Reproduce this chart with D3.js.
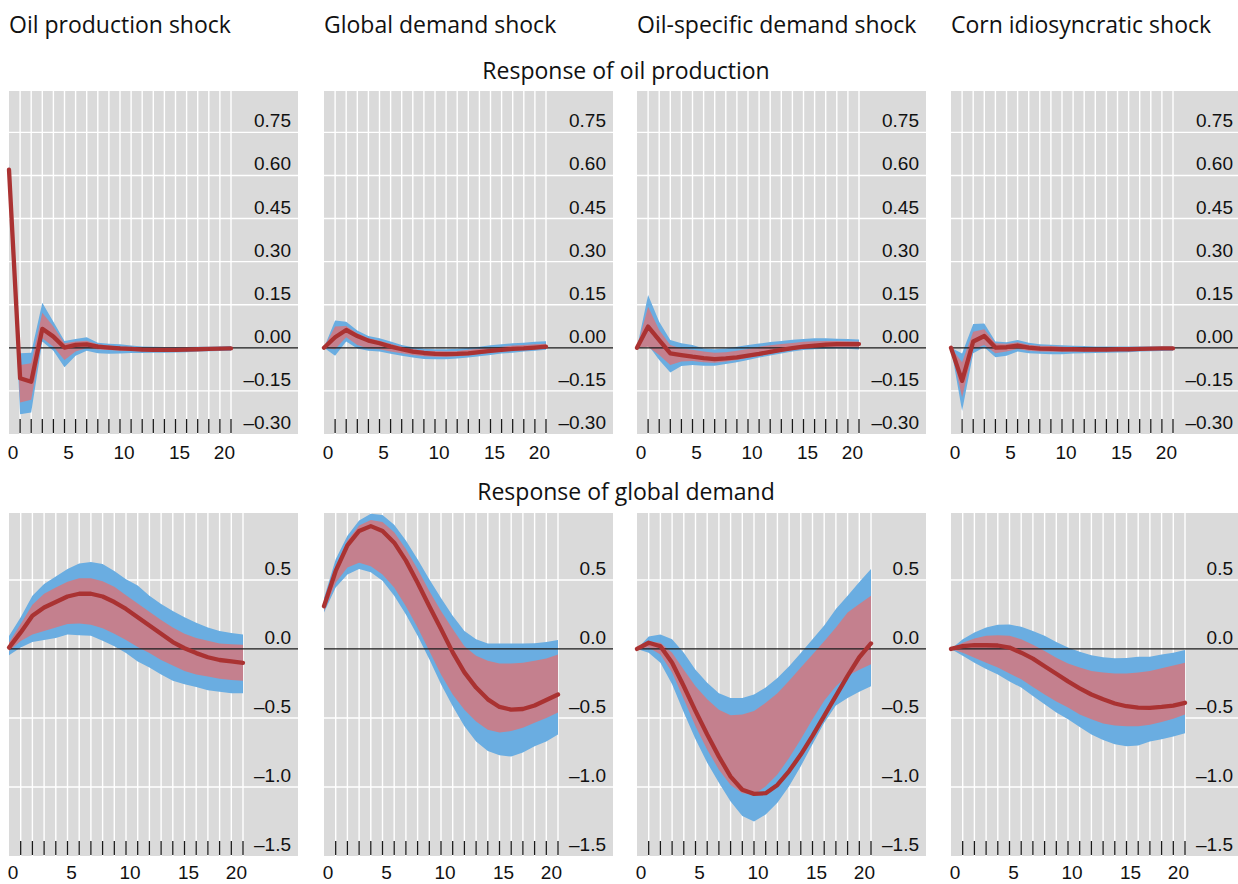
<!DOCTYPE html>
<html><head><meta charset="utf-8">
<script src="https://cdn.jsdelivr.net/npm/d3@7"></script>
<style>body{margin:0;background:#fff} svg{display:block}</style>
</head><body><svg id="c" width="1238" height="884"></svg>
<script>
// ---------- categories / ticks ----------
const shocks = ["Oil production shock", "Global demand shock", "Oil-specific demand shock", "Corn idiosyncratic shock"];
const rowTitles = ["Response of oil production", "Response of global demand"];
const horizons = [0,1,2,3,4,5,6,7,8,9,10,11,12,13,14,15,16,17,18,19,20];
const xTickLabels = [0, 5, 10, 15, 20];
const yTicksTop = [-0.30, -0.15, 0.00, 0.15, 0.30, 0.45, 0.60, 0.75];
const yTicksBottom = [-1.5, -1.0, -0.5, 0.0, 0.5];

// ---------- Response of oil production ----------
// Oil production shock
const op_os_med   = [0.62,-0.106,-0.118,0.066,0.039,0.001,0.010,0.012,0.004,0.001,-0.002,-0.004,-0.006,-0.007,-0.007,-0.007,-0.006,-0.005,-0.004,-0.003,-0.002];
const op_os_hi68  = [0.63,-0.060,-0.054,0.122,0.074,0.016,0.022,0.025,0.012,0.008,0.005,0.002,0.000,-0.001,-0.001,-0.001,0.000,0.000,0.001,0.001,0.002];
const op_os_lo68  = [0.61,-0.190,-0.181,0.033,0.004,-0.042,-0.013,-0.001,-0.006,-0.008,-0.010,-0.011,-0.012,-0.013,-0.013,-0.012,-0.011,-0.010,-0.009,-0.008,-0.007];
const op_os_hi90  = [0.64,-0.019,-0.017,0.157,0.091,0.024,0.031,0.037,0.018,0.014,0.012,0.008,0.005,0.004,0.003,0.003,0.003,0.004,0.004,0.005,0.006];
const op_os_lo90  = [0.60,-0.231,-0.225,0.022,-0.010,-0.068,-0.028,-0.010,-0.019,-0.021,-0.020,-0.018,-0.018,-0.017,-0.017,-0.016,-0.015,-0.013,-0.012,-0.011,-0.010];
// Global demand shock
const op_gd_med   = [0.000,0.037,0.062,0.041,0.025,0.016,0.004,-0.005,-0.013,-0.018,-0.021,-0.022,-0.021,-0.019,-0.015,-0.011,-0.007,-0.004,-0.002,0.001,0.004];
const op_gd_hi68  = [0.000,0.074,0.076,0.051,0.033,0.025,0.014,0.004,-0.004,-0.010,-0.011,-0.012,-0.011,-0.007,-0.003,0.001,0.004,0.008,0.010,0.012,0.014];
const op_gd_lo68  = [0.000,-0.005,0.037,0.010,-0.002,-0.005,-0.013,-0.019,-0.025,-0.029,-0.031,-0.031,-0.029,-0.026,-0.021,-0.017,-0.013,-0.010,-0.007,-0.005,-0.003];
const op_gd_hi90  = [0.000,0.095,0.091,0.060,0.041,0.033,0.022,0.010,0.002,-0.003,-0.005,-0.005,-0.003,0.000,0.004,0.009,0.012,0.016,0.018,0.021,0.023];
const op_gd_lo90  = [0.000,-0.028,0.022,-0.002,-0.010,-0.013,-0.021,-0.028,-0.034,-0.039,-0.040,-0.040,-0.037,-0.034,-0.029,-0.025,-0.020,-0.017,-0.013,-0.010,-0.007];
// Oil-specific demand shock
const op_od_med   = [0.000,0.074,0.027,-0.019,-0.025,-0.031,-0.036,-0.039,-0.037,-0.033,-0.027,-0.021,-0.014,-0.007,-0.001,0.004,0.008,0.011,0.013,0.013,0.013];
const op_od_hi68  = [0.000,0.143,0.062,0.010,-0.002,-0.007,-0.013,-0.017,-0.015,-0.010,-0.004,0.004,0.009,0.013,0.017,0.021,0.023,0.024,0.024,0.023,0.022];
const op_od_lo68  = [0.000,0.004,-0.025,-0.060,-0.048,-0.046,-0.050,-0.052,-0.048,-0.042,-0.035,-0.028,-0.021,-0.014,-0.008,-0.003,0.000,0.002,0.003,0.003,0.002];
const op_od_hi90  = [0.000,0.184,0.091,0.027,0.016,0.010,-0.002,-0.005,-0.002,0.004,0.010,0.015,0.020,0.024,0.028,0.031,0.033,0.033,0.032,0.031,0.029];
const op_od_lo90  = [0.000,0.010,-0.042,-0.086,-0.063,-0.060,-0.062,-0.062,-0.056,-0.050,-0.042,-0.034,-0.027,-0.020,-0.013,-0.008,-0.005,-0.003,-0.002,-0.003,-0.006];
// Corn idiosyncratic shock
const op_ci_med   = [0.000,-0.115,0.022,0.041,0.001,0.002,0.008,0.001,-0.003,-0.004,-0.005,-0.005,-0.006,-0.006,-0.006,-0.005,-0.005,-0.004,-0.003,-0.002,-0.002];
const op_ci_hi68  = [0.000,-0.050,0.056,0.065,0.016,0.014,0.019,0.011,0.007,0.006,0.004,0.002,0.001,0.000,0.000,0.000,0.000,0.000,0.001,0.001,0.002];
const op_ci_lo68  = [0.000,-0.173,-0.005,0.010,-0.019,-0.013,-0.004,-0.010,-0.013,-0.014,-0.014,-0.013,-0.013,-0.012,-0.012,-0.011,-0.010,-0.009,-0.008,-0.007,-0.006];
const op_ci_hi90  = [0.000,-0.020,0.083,0.085,0.022,0.019,0.027,0.018,0.012,0.011,0.009,0.007,0.006,0.005,0.005,0.005,0.005,0.005,0.005,0.005,0.005];
const op_ci_lo90  = [0.000,-0.220,-0.019,0.002,-0.033,-0.028,-0.013,-0.019,-0.021,-0.022,-0.022,-0.020,-0.019,-0.018,-0.017,-0.016,-0.015,-0.013,-0.012,-0.011,-0.010];

// ---------- Response of global demand ----------
// Oil production shock
const gd_os_med   = [0.01,0.12,0.24,0.30,0.34,0.38,0.40,0.40,0.38,0.34,0.29,0.23,0.17,0.11,0.05,0.005,-0.03,-0.06,-0.08,-0.09,-0.10];
const gd_os_hi68  = [0.046,0.18,0.32,0.40,0.445,0.487,0.513,0.513,0.49,0.45,0.39,0.33,0.27,0.21,0.155,0.11,0.08,0.06,0.04,0.035,0.03];
const gd_os_lo68  = [-0.015,0.058,0.105,0.13,0.155,0.18,0.185,0.175,0.15,0.11,0.065,0.015,-0.03,-0.08,-0.12,-0.16,-0.185,-0.20,-0.215,-0.225,-0.23];
const gd_os_hi90  = [0.094,0.23,0.385,0.47,0.525,0.58,0.62,0.63,0.615,0.565,0.505,0.46,0.385,0.325,0.275,0.23,0.19,0.155,0.13,0.115,0.105];
const gd_os_lo90  = [-0.045,0.01,0.05,0.065,0.08,0.105,0.10,0.095,0.06,0.02,-0.03,-0.09,-0.135,-0.185,-0.23,-0.255,-0.275,-0.30,-0.31,-0.32,-0.32];
// Global demand shock
const gd_gd_med   = [0.31,0.565,0.75,0.855,0.89,0.855,0.77,0.64,0.48,0.31,0.145,-0.025,-0.17,-0.28,-0.365,-0.42,-0.44,-0.435,-0.41,-0.37,-0.33];
const gd_gd_hi68  = [0.335,0.60,0.785,0.895,0.935,0.92,0.845,0.725,0.58,0.42,0.275,0.145,0.02,-0.05,-0.085,-0.105,-0.105,-0.10,-0.085,-0.07,-0.04];
const gd_gd_lo68  = [0.275,0.48,0.59,0.625,0.60,0.54,0.445,0.31,0.155,-0.015,-0.185,-0.33,-0.44,-0.525,-0.585,-0.605,-0.595,-0.57,-0.535,-0.50,-0.46];
const gd_gd_hi90  = [0.37,0.65,0.82,0.93,0.98,0.97,0.90,0.785,0.65,0.505,0.37,0.24,0.13,0.07,0.04,0.04,0.04,0.04,0.042,0.05,0.065];
const gd_gd_lo90  = [0.265,0.445,0.54,0.58,0.555,0.495,0.385,0.25,0.095,-0.075,-0.255,-0.415,-0.56,-0.67,-0.74,-0.77,-0.78,-0.75,-0.705,-0.67,-0.62];
// Oil-specific demand shock
const gd_od_med   = [0.0,0.045,0.02,-0.10,-0.27,-0.45,-0.62,-0.78,-0.925,-1.02,-1.05,-1.045,-0.985,-0.885,-0.765,-0.63,-0.485,-0.34,-0.195,-0.06,0.04];
const gd_od_hi68  = [0.0,0.055,0.045,-0.027,-0.15,-0.27,-0.365,-0.44,-0.48,-0.475,-0.45,-0.39,-0.32,-0.23,-0.135,-0.04,0.055,0.155,0.265,0.325,0.385];
const gd_od_lo68  = [0.0,0.01,-0.04,-0.17,-0.365,-0.56,-0.73,-0.875,-0.985,-1.045,-1.055,-0.995,-0.91,-0.79,-0.655,-0.51,-0.375,-0.27,-0.195,-0.15,-0.11];
const gd_od_hi90  = [0.0,0.09,0.105,0.07,-0.027,-0.15,-0.245,-0.32,-0.355,-0.355,-0.33,-0.28,-0.21,-0.125,-0.03,0.07,0.17,0.29,0.385,0.485,0.58];
const gd_od_lo90  = [0.0,-0.027,-0.10,-0.255,-0.46,-0.655,-0.825,-0.97,-1.105,-1.21,-1.25,-1.20,-1.115,-0.995,-0.85,-0.69,-0.535,-0.41,-0.355,-0.31,-0.27];
// Corn idiosyncratic shock
const gd_ci_med   = [0.0,0.02,0.027,0.027,0.025,0.01,-0.027,-0.07,-0.125,-0.18,-0.235,-0.285,-0.33,-0.365,-0.395,-0.415,-0.425,-0.427,-0.42,-0.41,-0.39];
const gd_ci_hi68  = [0.0,0.045,0.075,0.095,0.10,0.095,0.07,0.03,-0.014,-0.063,-0.106,-0.135,-0.16,-0.17,-0.177,-0.177,-0.17,-0.16,-0.14,-0.12,-0.10];
const gd_ci_lo68  = [0.0,-0.027,-0.063,-0.10,-0.135,-0.177,-0.22,-0.275,-0.33,-0.38,-0.425,-0.475,-0.51,-0.54,-0.555,-0.56,-0.56,-0.55,-0.53,-0.505,-0.475];
const gd_ci_hi90  = [0.0,0.07,0.12,0.155,0.175,0.178,0.16,0.13,0.095,0.05,0.01,-0.02,-0.045,-0.06,-0.068,-0.065,-0.056,-0.056,-0.04,-0.027,-0.007];
const gd_ci_lo90  = [0.0,-0.05,-0.10,-0.145,-0.185,-0.235,-0.28,-0.34,-0.40,-0.46,-0.51,-0.565,-0.62,-0.66,-0.69,-0.705,-0.70,-0.67,-0.655,-0.635,-0.61];

const panels = [
  [ {med:op_os_med,hi68:op_os_hi68,lo68:op_os_lo68,hi90:op_os_hi90,lo90:op_os_lo90},
    {med:op_gd_med,hi68:op_gd_hi68,lo68:op_gd_lo68,hi90:op_gd_hi90,lo90:op_gd_lo90},
    {med:op_od_med,hi68:op_od_hi68,lo68:op_od_lo68,hi90:op_od_hi90,lo90:op_od_lo90},
    {med:op_ci_med,hi68:op_ci_hi68,lo68:op_ci_lo68,hi90:op_ci_hi90,lo90:op_ci_lo90} ],
  [ {med:gd_os_med,hi68:gd_os_hi68,lo68:gd_os_lo68,hi90:gd_os_hi90,lo90:gd_os_lo90},
    {med:gd_gd_med,hi68:gd_gd_hi68,lo68:gd_gd_lo68,hi90:gd_gd_hi90,lo90:gd_gd_lo90},
    {med:gd_od_med,hi68:gd_od_hi68,lo68:gd_od_lo68,hi90:gd_od_hi90,lo90:gd_od_lo90},
    {med:gd_ci_med,hi68:gd_ci_hi68,lo68:gd_ci_lo68,hi90:gd_ci_hi90,lo90:gd_ci_lo90} ]
];

// ---------- layout / style ----------
const panelLeft = [9, 324, 637, 951];
const panelW = 289;
const rows = [
  {top: 91, bottom: 434, domain: [-0.30, 0.894], xSpan: 222, ticks: yTicksTop, fmt: ".2f", titleY: 79, xLabelY: 459},
  {top: 513, bottom: 856, domain: [-1.5, 0.985], xSpan: 234, ticks: yTicksBottom, fmt: ".1f", titleY: 500, xLabelY: 879}
];
const C = {bg: "#dadada", grid: "#ffffff", outer: "#6aade1", inner: "#c4808e", line: "#aa3232", axis: "#1a1a1a"};
const numFont = "'Liberation Sans', Arial, sans-serif";
const titleFont = "'Open Sans', 'Noto Sans', sans-serif";
const loc = d3.formatLocale({decimal: ".", thousands: ",", grouping: [3], currency: ["", ""], minus: "\u2013"});

const svg = d3.select("#c");

shocks.forEach((s, c) => {
  svg.append("text").attr("x", panelLeft[c]).attr("y", 33)
    .attr("font-family", titleFont).attr("font-size", 23).attr("fill", "#111").text(s);
});

rows.forEach((r, ri) => {
  svg.append("text").attr("x", 626).attr("y", r.titleY).attr("text-anchor", "middle")
    .attr("font-family", titleFont).attr("font-size", 23).attr("fill", "#111").text(rowTitles[ri]);
  const fmt = loc.format(r.fmt);
  const y = d3.scaleLinear().domain(r.domain).range([r.bottom, r.top]);
  panels[ri].forEach((p, c) => {
    const L = panelLeft[c];
    const x = d3.scaleLinear().domain([0, 20]).range([L, L + r.xSpan]);
    const g = svg.append("g");
    g.append("rect").attr("x", L).attr("y", r.top).attr("width", panelW).attr("height", r.bottom - r.top).attr("fill", C.bg);
    // vertical grid
    g.selectAll(".vg").data(horizons.filter(h => h > 0)).join("line")
      .attr("x1", d => x(d)).attr("x2", d => x(d)).attr("y1", r.top).attr("y2", r.bottom)
      .attr("stroke", C.grid).attr("stroke-width", 1.4);
    // horizontal grid
    g.selectAll(".hg").data(r.ticks.filter(t => t !== 0 && y(t) < r.bottom - 1)).join("line")
      .attr("x1", L).attr("x2", L + panelW).attr("y1", d => y(d)).attr("y2", d => y(d))
      .attr("stroke", C.grid).attr("stroke-width", 1.4);
    // bands
    const idx = horizons.map((h, i) => i);
    const area = (lo, hi) => d3.area().x(i => x(horizons[i])).y0(i => y(lo[i])).y1(i => y(hi[i]))(idx);
    g.append("path").attr("d", area(p.lo90, p.hi90)).attr("fill", C.outer);
    g.append("path").attr("d", area(p.lo68, p.hi68)).attr("fill", C.inner);
    // zero line
    g.append("line").attr("x1", L).attr("x2", L + panelW).attr("y1", y(0)).attr("y2", y(0))
      .attr("stroke", C.axis).attr("stroke-width", 1.3);
    // median
    g.append("path").attr("d", d3.line().x(i => x(horizons[i])).y(i => y(p.med[i]))(idx))
      .attr("fill", "none").attr("stroke", C.line).attr("stroke-width", 4.3)
      .attr("stroke-linejoin", "round").attr("stroke-linecap", "round");
    // bottom ticks
    g.selectAll(".tk").data(horizons.filter(h => h > 0)).join("line")
      .attr("x1", d => x(d)).attr("x2", d => x(d)).attr("y1", r.bottom - 15).attr("y2", r.bottom - 1)
      .attr("stroke", C.axis).attr("stroke-width", 1.3);
    // y labels
    g.selectAll(".yl").data(r.ticks).join("text")
      .attr("x", L + 282).attr("y", d => y(d) - 5).attr("text-anchor", "end")
      .attr("font-family", numFont).attr("font-size", 19).attr("fill", "#111")
      .text(d => fmt(d));
    // x labels
    g.selectAll(".xl").data(xTickLabels).join("text")
      .attr("x", d => x(d) + 4).attr("y", r.xLabelY)
      .attr("text-anchor", (d, i) => i === xTickLabels.length - 1 ? "end" : "middle")
      .attr("font-family", numFont).attr("font-size", 19).attr("fill", "#111")
      .text(d => d);
  });
});
</script></body></html>
